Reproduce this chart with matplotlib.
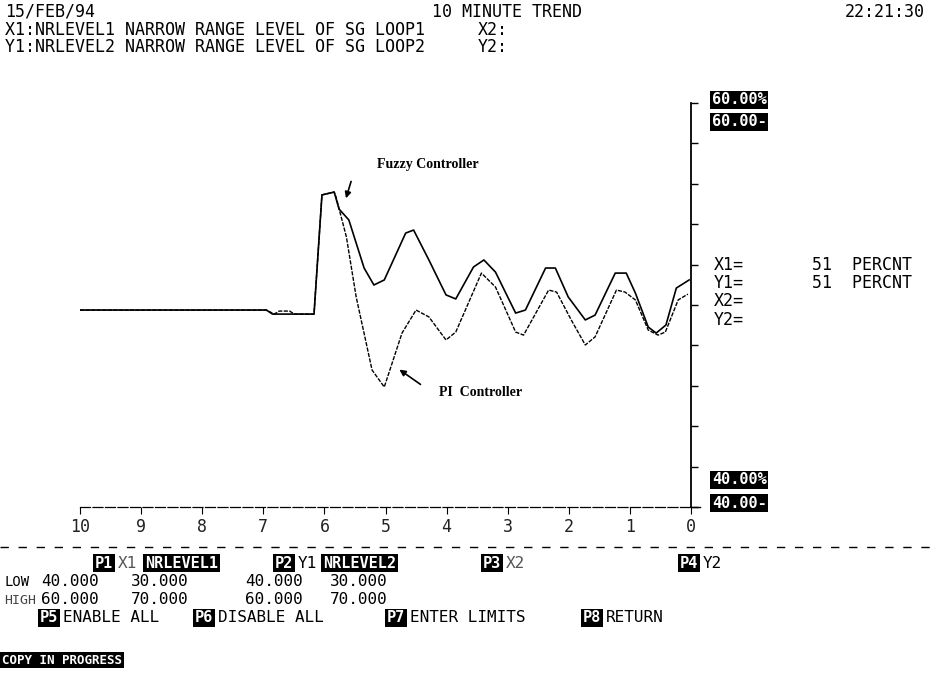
import matplotlib.pyplot as plt
import numpy as np

# trend data, minutes before now -> level (percent)
t_fuzzy = [10.0, 6.95, 6.85, 6.17, 6.04, 5.84, 5.76, 5.60, 5.35, 5.19, 5.02, 4.67, 4.54,
           4.29, 4.01, 3.85, 3.56, 3.39, 3.20, 2.87, 2.71, 2.38, 2.22, 2.01, 1.73,
           1.57, 1.24, 1.06, 0.91, 0.70, 0.57, 0.41, 0.24, 0.03]
y_fuzzy = [49.75, 49.75, 49.55, 49.55, 55.45, 55.59, 54.75, 54.21, 51.83, 50.99, 51.24,
           53.56, 53.71, 52.23, 50.50, 50.30, 51.88, 52.23, 51.63, 49.60, 49.75, 51.83,
           51.83, 50.40, 49.26, 49.50, 51.58, 51.58, 50.59, 48.91, 48.61, 49.01, 50.84,
           51.24]

t_pi = [10.0, 6.95, 6.82, 6.74, 6.57, 6.49, 6.17, 6.04, 5.84, 5.81, 5.64, 5.48, 5.22,
        5.02, 4.73, 4.50, 4.29, 4.01, 3.85, 3.43, 3.20, 2.87, 2.74, 2.33, 2.20, 1.96,
        1.73, 1.57, 1.22, 1.08, 0.91, 0.70, 0.54, 0.42, 0.21, 0.05]
y_pi = [49.75, 49.75, 49.55, 49.70, 49.70, 49.55, 49.55, 55.45, 55.59, 55.35, 53.37,
        50.40, 46.78, 45.94, 48.61, 49.75, 49.41, 48.27, 48.66, 51.58, 50.89, 48.66,
        48.51, 50.74, 50.64, 49.26, 48.02, 48.42, 50.74, 50.64, 50.25, 48.76, 48.51,
        48.66, 50.25, 50.54]

minutes = list(range(10, -1, -1))
mono = 'DejaVu Sans Mono'

fig = plt.figure(figsize=(9.3, 6.93), dpi=100)

# overlay in pixel coordinates for the screen text
ov = fig.add_axes([0, 0, 1, 1])
ov.set_xlim(0, 930)
ov.set_ylim(693, 0)
ov.axis('off')

def txt(x, y, s, size=12, ha='left', color='black'):
    ov.text(x, y, s, fontsize=size, family=mono, ha=ha, va='center', color=color)

def inv(x, y, s, size=12):
    ov.text(x, y, s, fontsize=size, family=mono, ha='left', va='center', color='white',
            fontweight='bold',
            bbox=dict(facecolor='black', edgecolor='none', pad=1.2))

# header
txt(5, 12, '15/FEB/94')
txt(432, 12, '10 MINUTE TREND')
txt(925, 12, '22:21:30', ha='right')
txt(5, 30, 'X1:NRLEVEL1 NARROW RANGE LEVEL OF SG LOOP1')
txt(478, 30, 'X2:')
txt(5, 47, 'Y1:NRLEVEL2 NARROW RANGE LEVEL OF SG LOOP2')
txt(478, 47, 'Y2:')

# scale limits and cursor readout on the right
inv(712, 100, '60.00%', 11)
inv(712, 122, '60.00-', 11)
inv(712, 480, '40.00%', 11)
inv(712, 503, '40.00-', 11)
txt(714, 265, 'X1=')
txt(714, 283, 'Y1=')
txt(714, 301, 'X2=')
txt(714, 320, 'Y2=')
txt(812, 265, '51  PERCNT')
txt(812, 283, '51  PERCNT')

# separator
ov.plot([0, 930], [547, 547], color='black', lw=1, dashes=(6, 7))

# function key area
inv(95, 563, 'P1', 11)
txt(118, 563, 'X1', 11.5, color='#555555')
inv(145, 563, 'NRLEVEL1', 11)
inv(275, 563, 'P2', 11)
txt(298, 563, 'Y1', 11.5)
inv(323, 563, 'NRLEVEL2', 11)
inv(483, 563, 'P3', 11)
txt(506, 563, 'X2', 11.5, color='#555555')
inv(680, 563, 'P4', 11)
txt(703, 563, 'Y2', 11.5)

txt(4, 582, 'LOW', 10)
txt(4, 600, 'HIGH', 9.5, color='#444444')
for x, lo, hi in [(41, '40.000', '60.000'), (131, '30.000', '70.000'),
                  (245, '40.000', '60.000'), (330, '30.000', '70.000')]:
    txt(x, 582, lo, 11.5)
    txt(x, 600, hi, 11.5)

inv(40, 618, 'P5', 11)
txt(63, 618, 'ENABLE ALL', 11.5)
inv(195, 618, 'P6', 11)
txt(218, 618, 'DISABLE ALL', 11.5)
inv(387, 618, 'P7', 11)
txt(410, 618, 'ENTER LIMITS', 11.5)
inv(583, 618, 'P8', 11)
txt(606, 618, 'RETURN', 11.5)

inv(2, 660, 'COPY IN PROGRESS', 9)

# trend plot
ax = fig.add_axes([80 / 930, (693 - 507) / 693, 611 / 930, 404 / 693])
ax.patch.set_alpha(0)
ax.plot(t_fuzzy, y_fuzzy, color='black', lw=1.2)
ax.plot(t_pi, y_pi, color='black', lw=1.0, dashes=(3, 1))
ax.set_xlim(10, 0)
ax.set_ylim(40, 60)

for s in ['top', 'left']:
    ax.spines[s].set_visible(False)
ax.spines['right'].set_linewidth(1.3)
ax.spines['bottom'].set_linewidth(0.9)
ax.spines['bottom'].set_linestyle((0, (8, 2)))
ax.yaxis.tick_right()
ax.set_yticks(np.arange(40, 61, 2))
ax.set_yticklabels([])
ax.tick_params(axis='y', direction='out', length=5, width=1)
ax.set_xticks(minutes)
ax.set_xticklabels([str(m) for m in minutes], family=mono, fontsize=12, color='#222222')
ax.tick_params(axis='x', direction='out', length=5, width=0.8, pad=3)
ax.plot([1, 1.015], [0, 0], transform=ax.transAxes, color='black', lw=1, clip_on=False)

ax.text(4.30, 56.98, 'Fuzzy Controller', family='Liberation Serif', fontweight='bold',
        fontsize=10, ha='center', va='center')
ax.annotate('', xy=(5.66, 55.15), xytext=(5.55, 56.25),
            arrowprops=dict(arrowstyle='-|>', color='black', lw=1.2, mutation_scale=9))
ax.text(3.45, 45.69, 'PI  Controller', family='Liberation Serif', fontweight='bold',
        fontsize=10, ha='center', va='center')
ax.annotate('', xy=(4.81, 46.88), xytext=(4.39, 45.99),
            arrowprops=dict(arrowstyle='-|>', color='black', lw=1.2, mutation_scale=9))

fig.savefig('out.png', dpi=100)
